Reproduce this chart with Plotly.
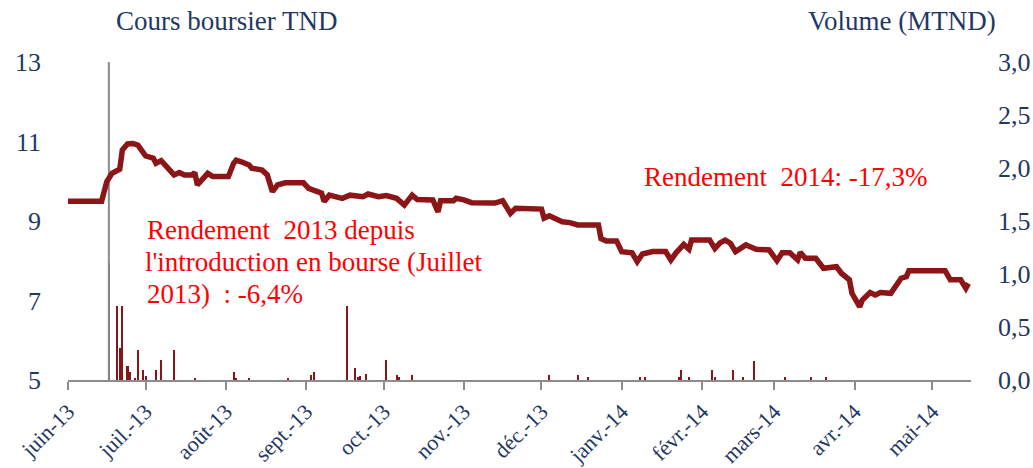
import plotly.graph_objects as go

# --- Share price (TND) ---
price_dates = [
    "2013-06-01", "2013-06-14", "2013-06-16", "2013-06-18", "2013-06-21", "2013-06-22", "2013-06-24", "2013-06-26", "2013-06-28", "2013-06-29",
    "2013-07-01", "2013-07-04", "2013-07-05", "2013-07-07", "2013-07-09", "2013-07-12", "2013-07-14", "2013-07-16", "2013-07-19", "2013-07-20",
    "2013-07-21", "2013-07-25", "2013-07-27", "2013-08-02", "2013-08-04", "2013-08-05", "2013-08-07", "2013-08-10", "2013-08-11", "2013-08-15",
    "2013-08-17", "2013-08-19", "2013-08-21", "2013-08-24", "2013-08-31", "2013-09-02", "2013-09-07", "2013-09-08", "2013-09-10", "2013-09-15",
    "2013-09-18", "2013-09-23", "2013-09-25", "2013-09-29", "2013-10-02", "2013-10-06", "2013-10-09", "2013-10-12", "2013-10-14", "2013-10-20",
    "2013-10-22", "2013-10-23", "2013-10-28", "2013-10-29", "2013-11-01", "2013-11-04", "2013-11-13", "2013-11-16", "2013-11-19", "2013-11-21",
    "2013-12-01", "2013-12-02", "2013-12-04", "2013-12-09", "2013-12-12", "2013-12-15", "2013-12-23", "2013-12-24", "2013-12-26", "2013-12-30",
    "2014-01-01", "2014-01-05", "2014-01-07", "2014-01-09", "2014-01-13", "2014-01-18", "2014-01-20", "2014-01-22", "2014-01-25", "2014-01-27",
    "2014-01-28", "2014-02-04", "2014-02-06", "2014-02-08", "2014-02-10", "2014-02-12", "2014-02-14", "2014-02-18", "2014-02-19", "2014-02-22",
    "2014-02-27", "2014-03-02", "2014-03-04", "2014-03-07", "2014-03-10", "2014-03-11", "2014-03-13", "2014-03-17", "2014-03-20", "2014-03-25",
    "2014-03-27", "2014-03-30", "2014-03-31", "2014-04-03", "2014-04-04", "2014-04-07", "2014-04-09", "2014-04-11", "2014-04-15", "2014-04-19",
    "2014-04-21", "2014-04-22", "2014-05-06", "2014-05-08", "2014-05-12", "2014-05-14", "2014-05-15",
]
price_values = [
    9.50, 9.50, 9.99, 10.20, 10.30, 10.79, 10.94, 10.95, 10.91, 10.83,
    10.64, 10.58, 10.45, 10.52, 10.37, 10.16, 10.22, 10.16, 10.16, 10.22,
    9.91, 10.20, 10.12, 10.12, 10.45, 10.53, 10.49, 10.41, 10.33, 10.28,
    10.16, 9.74, 9.91, 9.96, 9.96, 9.82, 9.70, 9.49, 9.65, 9.57,
    9.65, 9.61, 9.68, 9.61, 9.64, 9.57, 9.40, 9.65, 9.54, 9.53,
    9.23, 9.51, 9.51, 9.57, 9.53, 9.46, 9.45, 9.51, 9.19, 9.32,
    9.30, 9.07, 9.13, 8.98, 8.96, 8.90, 8.90, 8.56, 8.50, 8.50,
    8.23, 8.20, 7.98, 8.17, 8.23, 8.23, 8.02, 8.20, 8.41, 8.29,
    8.52, 8.52, 8.31, 8.45, 8.52, 8.44, 8.23, 8.40, 8.37, 8.29,
    8.27, 8.00, 8.20, 8.20, 8.02, 8.21, 8.06, 8.06, 7.81, 7.85,
    7.68, 7.52, 7.18, 6.84, 7.01, 7.20, 7.14, 7.20, 7.18, 7.56,
    7.60, 7.75, 7.75, 7.52, 7.52, 7.31, 7.43,
]

# --- Traded volume (million TND) ---
volume_dates = [
    "2013-06-17", "2013-06-20", "2013-06-21", "2013-06-22", "2013-06-24", "2013-06-25", "2013-06-27", "2013-06-28", "2013-06-30", "2013-07-01",
    "2013-07-05", "2013-07-07", "2013-07-12", "2013-07-20", "2013-08-04", "2013-08-05", "2013-08-10", "2013-08-25", "2013-09-03", "2013-09-04",
    "2013-09-17", "2013-09-20", "2013-09-21", "2013-09-22", "2013-09-24", "2013-10-02", "2013-10-06", "2013-10-07", "2013-10-12", "2013-12-04",
    "2013-12-15", "2013-12-19", "2014-01-08", "2014-01-10", "2014-01-23", "2014-01-24", "2014-01-27", "2014-02-05", "2014-02-06", "2014-02-13",
    "2014-02-17", "2014-02-21", "2014-03-05", "2014-03-15", "2014-03-21",
]
volume_values = [
    1.10, 0.70, 0.30, 0.70, 0.13, 0.075, 0.01, 0.28, 0.09, 0.04,
    0.09, 0.19, 0.28, 0.02, 0.075, 0.02, 0.02, 0.02, 0.045, 0.075,
    0.70, 0.11, 0.03, 0.04, 0.057, 0.19, 0.05, 0.025, 0.05, 0.05,
    0.05, 0.025, 0.025, 0.025, 0.025, 0.09, 0.025, 0.09, 0.025, 0.09,
    0.025, 0.18, 0.025, 0.025, 0.025,
]

# Listing day marker (full-height grey rule on the volume axis)
listing_marker = "2013-06-16 19:00"
volume_max = 3.0

month_ticks = ["2013-06-01", "2013-07-01", "2013-08-01", "2013-09-01", "2013-10-01", "2013-11-01",
               "2013-12-01", "2014-01-01", "2014-02-01", "2014-03-01", "2014-04-01", "2014-05-01"]
month_labels = ["juin-13", "juil.-13", "août-13", "sept.-13", "oct.-13", "nov.-13",
                "déc.-13", "janv.-14", "févr.-14", "mars-14", "avr.-14", "mai-14"]

price_ticks = [5, 7, 9, 11, 13]
volume_ticks = [0.0, 0.5, 1.0, 1.5, 2.0, 2.5, 3.0]

FONT = "Liberation Serif"
NAVY = "#1F3864"
RED = "#FF0000"
DARK_RED = "#8C1518"
GREY = "#8C8C8C"
DAY_MS = 86400000

fig = go.Figure()

fig.add_trace(go.Bar(
    x=volume_dates, y=volume_values, yaxis="y",
    marker=dict(color="#86161A", line=dict(width=0)),
    width=0.8 * DAY_MS, hoverinfo="x+y", showlegend=False,
))

fig.add_trace(go.Scatter(
    x=[listing_marker, listing_marker], y=[0, volume_max], yaxis="y",
    mode="lines", line=dict(color="#8A8A8A", width=2), showlegend=False, hoverinfo="skip",
))

fig.add_trace(go.Scatter(
    x=price_dates, y=price_values, yaxis="y2",
    mode="lines", line=dict(color=DARK_RED, width=5.5), showlegend=False,
))

fig.update_layout(
    width=1033, height=468,
    margin=dict(l=68, r=62, t=62, b=88, autoexpand=False),
    paper_bgcolor="white", plot_bgcolor="white",
    separators=", ",
    font=dict(family=FONT, color=NAVY),
    bargap=0,
    xaxis=dict(
        type="date", range=["2013-06-01", "2014-05-16"],
        tickvals=month_ticks, ticktext=month_labels, tickangle=-45,
        tickfont=dict(family=FONT, size=22, color=NAVY),
        showline=True, linecolor=GREY, linewidth=2,
        ticks="outside", ticklen=8, tickwidth=2, tickcolor=GREY,
        showgrid=False, zeroline=False, automargin=False,
    ),
    yaxis=dict(
        side="right", range=[0, volume_max],
        tickvals=volume_ticks, tickformat=".1f",
        tickfont=dict(family=FONT, size=26, color=NAVY),
        showgrid=False, zeroline=False, showline=False, ticks="",
        ticklabelstandoff=26, automargin=False,
    ),
    yaxis2=dict(
        overlaying="y", side="left", range=[5, 13],
        tickvals=price_ticks,
        tickfont=dict(family=FONT, size=26, color=NAVY),
        showgrid=False, zeroline=False, showline=False, ticks="",
        ticklabelstandoff=26, automargin=False,
    ),
)

annotations = [
    dict(text="Cours boursier TND", x=0.175, y=1.129, xanchor="center", yanchor="middle",
         font=dict(size=27, color=NAVY)),
    dict(text="Volume (MTND)", x=0.924, y=1.129, xanchor="center", yanchor="middle",
         font=dict(size=27, color=NAVY)),
    dict(text="Rendement  2013 depuis", x=0.0852, y=0.4717, xanchor="left", yanchor="middle",
         font=dict(size=27, color=RED)),
    dict(text="l'introduction en bourse (Juillet", x=0.083, y=0.3726, xanchor="left", yanchor="middle",
         font=dict(size=27, color=RED)),
    dict(text="2013)  : -6,4%", x=0.0852, y=0.2689, xanchor="left", yanchor="middle",
         font=dict(size=27, color=RED)),
    dict(text="Rendement  2014: -17,3%", x=0.636, y=0.638, xanchor="left", yanchor="middle",
         font=dict(size=27, color=RED)),
]
for a in annotations:
    a.update(xref="paper", yref="paper", showarrow=False)
fig.update_layout(annotations=annotations)

fig.write_html("out.html")
